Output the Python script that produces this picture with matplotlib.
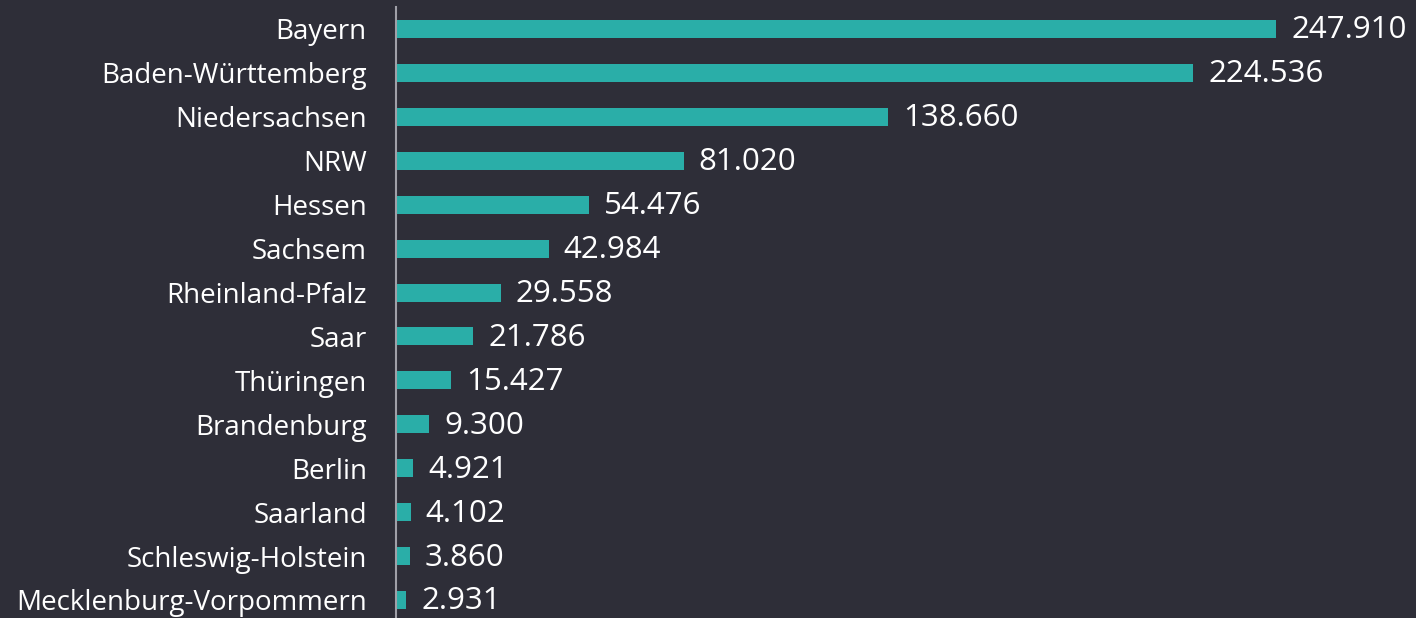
import matplotlib
matplotlib.use("Agg")
import matplotlib.pyplot as plt

categories = ["Bayern", "Baden-Württemberg", "Niedersachsen", "NRW", "Hessen", "Sachsem",
              "Rheinland-Pfalz", "Saar", "Thüringen", "Brandenburg", "Berlin", "Saarland",
              "Schleswig-Holstein", "Mecklenburg-Vorpommern"]
values = [247910, 224536, 138660, 81020, 54476, 42984, 29558, 21786, 15427, 9300, 4921, 4102, 3860, 2931]
value_labels = ["247.910", "224.536", "138.660", "81.020", "54.476", "42.984", "29.558", "21.786",
                "15.427", "9.300", "4.921", "4.102", "3.860", "2.931"]

BG = "#2e2e38"
BAR = "#2aaea8"
plt.rcParams['font.family'] = ['Open Sans', 'DejaVu Sans']

W, H = 1416, 618
fig = plt.figure(figsize=(W / 100, H / 100), dpi=100, facecolor=BG)
ax = fig.add_axes([396 / W, 0, (W - 396) / W, 611 / H], facecolor=BG)

y = list(range(len(categories)))
ax.barh(y, values, height=0.41, color=BAR, zorder=2)
ax.set_xlim(0, 287300)
ax.set_ylim(13 + 18 / 43.92, -0.5)

for yi, v, lab in zip(y, values, value_labels):
    ax.annotate(lab, (v, yi), xytext=(15, 2), textcoords="offset pixels",
                va="center_baseline", ha="left", color="white", fontsize=22.5,
                annotation_clip=False)

ax.set_yticks(y)
ax.set_yticklabels(categories, color="white", fontsize=20)
ax.tick_params(axis="y", length=0, pad=21)
ax.set_xticks([])
for s in ["top", "right", "bottom"]:
    ax.spines[s].set_visible(False)
ax.spines["left"].set_color("#a0a0a8")
ax.spines["left"].set_linewidth(1.5)

fig.savefig("out.png", dpi=100, facecolor=BG)
